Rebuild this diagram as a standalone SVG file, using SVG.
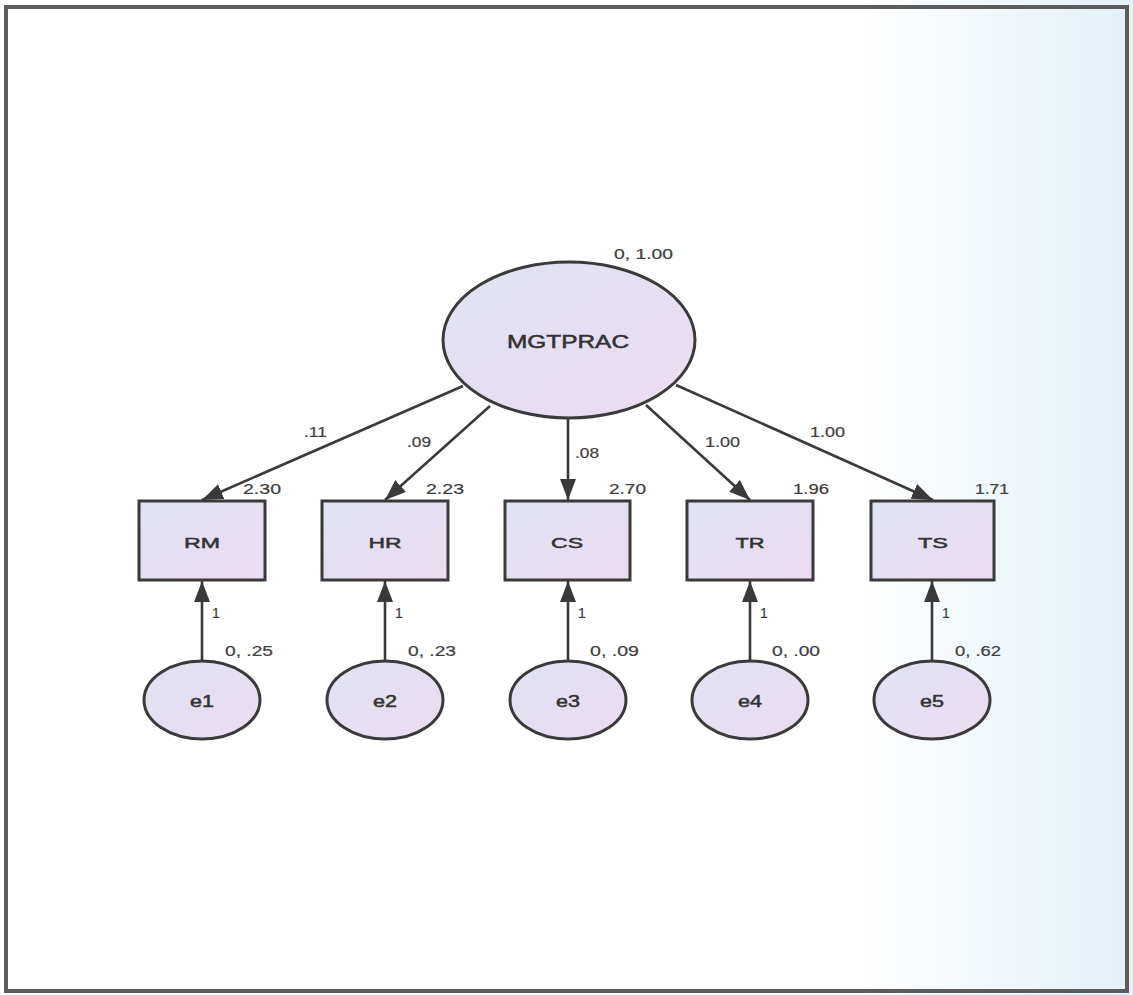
<svg xmlns="http://www.w3.org/2000/svg" width="1133" height="995" viewBox="0 0 1133 995">
  <defs>
    <linearGradient id="haze" x1="0" y1="0" x2="1" y2="0">
      <stop offset="0" stop-color="#ffffff"/>
      <stop offset="0.76" stop-color="#ffffff"/>
      <stop offset="0.88" stop-color="#f0f7fb"/>
      <stop offset="1" stop-color="#e4f1f8"/>
    </linearGradient>
    <linearGradient id="nodeFill" x1="0" y1="0" x2="1" y2="1">
      <stop offset="0" stop-color="#dfe3f3"/>
      <stop offset="1" stop-color="#ecdcef"/>
    </linearGradient>
    <marker id="arrow" viewBox="0 0 21 16" refX="21" refY="8" markerWidth="21" markerHeight="16" markerUnits="userSpaceOnUse" orient="auto">
      <path d="M0,0 L21,8 L0,16 Z" fill="#3a3a3a"/>
    </marker>
    <style>
      .node { fill: url(#nodeFill); stroke: #3a3a3a; stroke-width: 3; }
      .name { font-family: "Liberation Sans", Arial, sans-serif; fill: #333333; stroke: #333333; stroke-width: 0.5; text-anchor: middle; }
      .lbl { font-family: "Liberation Sans", Arial, sans-serif; font-size: 14px; fill: #3e3e3e; stroke: #3e3e3e; stroke-width: 0.2; }
      .edge { stroke: #3a3a3a; stroke-width: 2.6; fill: none; marker-end: url(#arrow); }
    </style>
  </defs>

  <!-- page background and frame -->
  <rect x="0" y="0" width="1133" height="995" fill="url(#haze)"/>
  <rect x="6" y="7" width="1121" height="984" fill="none" stroke="#5c5c5c" stroke-width="4"/>

  <!-- connectors -->
  <g id="connectors">
    <line class="edge" x1="463" y1="386" x2="202" y2="500"/>
    <line class="edge" x1="490" y1="406" x2="385" y2="500"/>
    <line class="edge" x1="568" y1="418" x2="568" y2="500"/>
    <line class="edge" x1="646" y1="405" x2="750" y2="500"/>
    <line class="edge" x1="676" y1="385" x2="933" y2="500"/>
    <line class="edge" x1="202" y1="661" x2="202" y2="581"/>
    <line class="edge" x1="385" y1="661" x2="385" y2="581"/>
    <line class="edge" x1="568" y1="661" x2="568" y2="581"/>
    <line class="edge" x1="750" y1="661" x2="750" y2="581"/>
    <line class="edge" x1="932" y1="661" x2="932" y2="581"/>
    <!-- path weights -->
    <text class="lbl" x="304" y="437" textLength="23" lengthAdjust="spacingAndGlyphs">.11</text>
    <text class="lbl" x="407" y="447" textLength="24" lengthAdjust="spacingAndGlyphs">.09</text>
    <text class="lbl" x="575" y="458" textLength="24" lengthAdjust="spacingAndGlyphs">.08</text>
    <text class="lbl" x="705" y="447" textLength="35" lengthAdjust="spacingAndGlyphs">1.00</text>
    <text class="lbl" x="810" y="437" textLength="35" lengthAdjust="spacingAndGlyphs">1.00</text>
    <text class="lbl" x="212" y="618">1</text>
    <text class="lbl" x="395" y="618">1</text>
    <text class="lbl" x="578" y="618">1</text>
    <text class="lbl" x="760" y="618">1</text>
    <text class="lbl" x="942" y="618">1</text>
  </g>

  <!-- latent factor -->
  <g id="MGTPRAC">
    <ellipse class="node" cx="569" cy="340" rx="126" ry="78"/>
    <text class="name" x="568" y="348" font-size="18" textLength="122" lengthAdjust="spacingAndGlyphs">MGTPRAC</text>
    <text class="lbl" x="614" y="259" textLength="59" lengthAdjust="spacingAndGlyphs">0, 1.00</text>
  </g>

  <!-- observed indicators -->
  <g id="RM">
    <rect class="node" x="139" y="501" width="126" height="79"/>
    <text class="name" x="202" y="548" font-size="15" textLength="36" lengthAdjust="spacingAndGlyphs">RM</text>
    <text class="lbl" x="243" y="494" textLength="38" lengthAdjust="spacingAndGlyphs">2.30</text>
  </g>
  <g id="HR">
    <rect class="node" x="322" y="501" width="126" height="79"/>
    <text class="name" x="385" y="548" font-size="15" textLength="33" lengthAdjust="spacingAndGlyphs">HR</text>
    <text class="lbl" x="426" y="494" textLength="38" lengthAdjust="spacingAndGlyphs">2.23</text>
  </g>
  <g id="CS">
    <rect class="node" x="505" y="501" width="125" height="79"/>
    <text class="name" x="567" y="548" font-size="15" textLength="32" lengthAdjust="spacingAndGlyphs">CS</text>
    <text class="lbl" x="609" y="494" textLength="37" lengthAdjust="spacingAndGlyphs">2.70</text>
  </g>
  <g id="TR">
    <rect class="node" x="687" y="501" width="126" height="79"/>
    <text class="name" x="750" y="548" font-size="15" textLength="29" lengthAdjust="spacingAndGlyphs">TR</text>
    <text class="lbl" x="793" y="494" textLength="36" lengthAdjust="spacingAndGlyphs">1.96</text>
  </g>
  <g id="TS">
    <rect class="node" x="871" y="501" width="123" height="79"/>
    <text class="name" x="933" y="548" font-size="15" textLength="30" lengthAdjust="spacingAndGlyphs">TS</text>
    <text class="lbl" x="975" y="494" textLength="34" lengthAdjust="spacingAndGlyphs">1.71</text>
  </g>

  <!-- error terms -->
  <g id="e1">
    <ellipse class="node" cx="202" cy="700" rx="58" ry="39"/>
    <text class="name" x="202" y="707" font-size="17" textLength="24" lengthAdjust="spacingAndGlyphs">e1</text>
    <text class="lbl" x="225" y="656" textLength="48" lengthAdjust="spacingAndGlyphs">0, .25</text>
  </g>
  <g id="e2">
    <ellipse class="node" cx="385" cy="700" rx="58" ry="39"/>
    <text class="name" x="385" y="707" font-size="17" textLength="24" lengthAdjust="spacingAndGlyphs">e2</text>
    <text class="lbl" x="408" y="656" textLength="48" lengthAdjust="spacingAndGlyphs">0, .23</text>
  </g>
  <g id="e3">
    <ellipse class="node" cx="568" cy="700" rx="58" ry="39"/>
    <text class="name" x="568" y="707" font-size="17" textLength="24" lengthAdjust="spacingAndGlyphs">e3</text>
    <text class="lbl" x="590" y="656" textLength="49" lengthAdjust="spacingAndGlyphs">0, .09</text>
  </g>
  <g id="e4">
    <ellipse class="node" cx="750" cy="700" rx="58" ry="39"/>
    <text class="name" x="750" y="707" font-size="17" textLength="24" lengthAdjust="spacingAndGlyphs">e4</text>
    <text class="lbl" x="772" y="656" textLength="48" lengthAdjust="spacingAndGlyphs">0, .00</text>
  </g>
  <g id="e5">
    <ellipse class="node" cx="932" cy="700" rx="58" ry="39"/>
    <text class="name" x="932" y="707" font-size="17" textLength="24" lengthAdjust="spacingAndGlyphs">e5</text>
    <text class="lbl" x="955" y="656" textLength="46" lengthAdjust="spacingAndGlyphs">0, .62</text>
  </g>
</svg>
